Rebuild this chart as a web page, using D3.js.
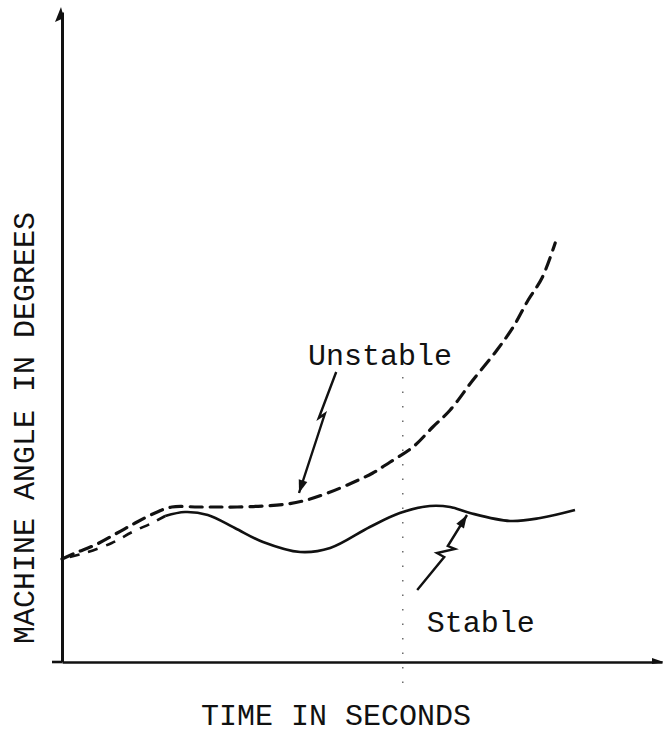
<!DOCTYPE html>
<html>
<head>
<meta charset="utf-8">
<script src="https://cdn.jsdelivr.net/npm/d3@7"></script>
<style>
  html, body { margin: 0; padding: 0; background: #fff; }
  svg { display: block; }
  text { font-family: "Liberation Mono", "DejaVu Sans Mono", monospace; fill: #111; }
</style>
</head>
<body>
<svg id="chart" width="663" height="736"></svg>
<script>
// ---- data (time in arbitrary units, angle in arbitrary units) ----
const unstableTime  = [0, 0.22, 0.55, 0.92, 1.22, 1.55, 1.83, 2.27, 2.6, 2.92, 3.35, 3.75, 4.08, 4.43, 4.83, 5.18, 5.47, 5.85, 6.18, 6.47, 6.85, 7.25, 7.52, 7.77, 8.0, 8.22];
const unstableAngle = [10.3, 10.9, 11.7, 12.9, 13.9, 14.9, 15.5, 15.5, 15.5, 15.5, 15.6, 15.8, 16.2, 16.9, 17.9, 18.9, 20.0, 21.5, 23.5, 25.2, 28.2, 31.2, 33.5, 36.2, 38.4, 41.9];

const stableTime  = [0.13, 0.38, 0.83, 1.17, 1.5, 1.72, 2.05, 2.43, 2.88, 3.35, 3.97, 4.47, 5.13, 5.63, 6.13, 6.47, 6.8, 7.47, 7.97, 8.55];
const stableAngle = [10.5, 10.9, 11.9, 13.0, 13.9, 14.6, 15.0, 14.7, 13.4, 12.0, 11.0, 11.4, 13.5, 14.9, 15.6, 15.5, 14.9, 14.1, 14.4, 15.2];
const stableSolidFrom = 1.72;   // before this time the stable trace is drawn dashed

const labels = ["Unstable", "Stable"];
const labelTime  = [4.1, 6.08];
const labelAngle = [29.7, 3.0];

// annotation arrows (time, angle), ending at the curve
const unstableArrowTime  = [4.57, 4.28, 4.38, 3.95];
const unstableArrowAngle = [29.0, 24.4, 24.8, 16.9];
const stableArrowTime  = [5.92, 6.37, 6.25, 6.55, 6.43, 6.75];
const stableArrowAngle = [7.2, 10.5, 10.9, 11.3, 11.6, 14.7];

const guideTime = 5.68;            // faint dotted vertical guide
const guideAngle = [28.5, -2.3];

const xTitle = "TIME IN SECONDS";
const yTitle = "MACHINE ANGLE IN DEGREES";

// ---- drawing ----
const svg = d3.select("#chart");
const x = d3.scaleLinear().domain([0, 10]).range([62, 662]);
const y = d3.scaleLinear().domain([0, 65]).range([662, 12]);

const zip = (a, b) => a.map((v, i) => [v, b[i]]);
const line = d3.line().x(d => x(d[0])).y(d => y(d[1])).curve(d3.curveCatmullRom.alpha(0.5));
const poly = d3.line().x(d => x(d[0])).y(d => y(d[1]));

// dotted guide
svg.append("line")
  .attr("x1", x(guideTime)).attr("x2", x(guideTime))
  .attr("y1", y(guideAngle[0])).attr("y2", y(guideAngle[1]))
  .attr("stroke", "#555").attr("stroke-width", 1.3)
  .attr("stroke-dasharray", "1.5,13");

// axes
const yAxis = svg.append("g").attr("transform", `translate(${x(0)},0)`)
  .call(d3.axisLeft(y).tickValues([]).tickSizeOuter(0));
yAxis.select(".domain").attr("stroke", "#111").attr("stroke-width", 3);
const xAxis = svg.append("g").attr("transform", `translate(0,${y(0)})`)
  .call(d3.axisBottom(x).tickValues([]).tickSizeOuter(0));
xAxis.select(".domain").attr("stroke", "#111").attr("stroke-width", 2.6);
// stub of x axis left of the y axis
svg.append("line").attr("x1", x(0) - 10).attr("x2", x(0)).attr("y1", y(0)).attr("y2", y(0))
  .attr("stroke", "#111").attr("stroke-width", 2.6);
// axis arrowheads
svg.append("path")
  .attr("d", `M${x(0) - 1},${y(65) - 5} L${x(0) - 7},${y(65) + 10} L${x(0) + 2},${y(65) + 6} Z`)
  .attr("fill", "#111");
svg.append("path")
  .attr("d", `M${x(10) + 2},${y(0)} L${x(10) - 10},${y(0) - 4} L${x(10) - 10},${y(0) + 2} Z`)
  .attr("fill", "#111");

// unstable (dashed)
svg.append("path").datum(zip(unstableTime, unstableAngle))
  .attr("d", line).attr("fill", "none").attr("stroke", "#111")
  .attr("stroke-width", 3.2).attr("stroke-dasharray", "12,8").attr("stroke-linecap", "round");

// stable: dashed start, then solid
const stablePts = zip(stableTime, stableAngle);
const early = stablePts.filter(d => d[0] <= stableSolidFrom);
const late = stablePts.filter(d => d[0] >= stableSolidFrom);
svg.append("path").datum(early)
  .attr("d", line).attr("fill", "none").attr("stroke", "#111")
  .attr("stroke-width", 2.6).attr("stroke-dasharray", "10,9");
svg.append("path").datum(late)
  .attr("d", line).attr("fill", "none").attr("stroke", "#111")
  .attr("stroke-width", 2.6);

// arrows
function arrow(ts, as) {
  const pts = zip(ts, as);
  svg.append("path").datum(pts).attr("d", poly)
    .attr("fill", "none").attr("stroke", "#111").attr("stroke-width", 2.4)
    .attr("stroke-linejoin", "miter");
  const a = pts[pts.length - 2], b = pts[pts.length - 1];
  const x1 = x(a[0]), y1 = y(a[1]), x2 = x(b[0]), y2 = y(b[1]);
  const ang = Math.atan2(y2 - y1, x2 - x1);
  const L = 13, W = 4.5;
  const bx = x2 - L * Math.cos(ang), by = y2 - L * Math.sin(ang);
  const px = -Math.sin(ang) * W, py = Math.cos(ang) * W;
  svg.append("path")
    .attr("d", `M${x2},${y2} L${bx + px},${by + py} L${bx - px},${by - py} Z`)
    .attr("fill", "#111");
}
arrow(unstableArrowTime, unstableArrowAngle);
arrow(stableArrowTime, stableArrowAngle);

// labels
labels.forEach((t, i) => {
  svg.append("text").attr("x", x(labelTime[i])).attr("y", y(labelAngle[i]))
    .attr("font-size", 30).text(t);
});

// axis titles
svg.append("text").attr("x", 336).attr("y", 725).attr("text-anchor", "middle")
  .attr("font-size", 30).text(xTitle);
svg.append("text").attr("transform", "translate(34,428) rotate(-90)")
  .attr("text-anchor", "middle").attr("font-size", 30).text(yTitle);
</script>
</body>
</html>
